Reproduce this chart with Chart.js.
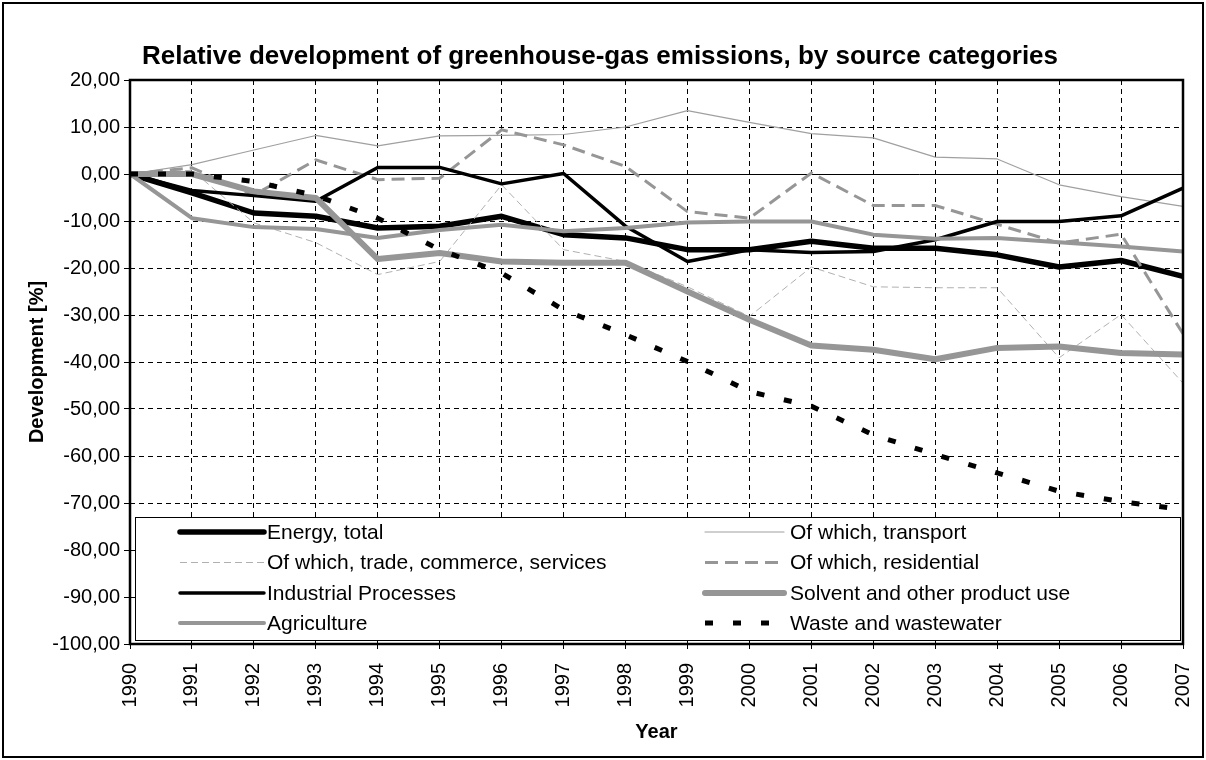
<!DOCTYPE html>
<html><head><meta charset="utf-8">
<script src="https://cdn.jsdelivr.net/npm/chart.js@4.4.1/dist/chart.umd.min.js"></script>
<style>html,body{margin:0;padding:0;background:#fff}#wrap{width:1206px;height:760px}</style>
</head><body><div id="wrap"><canvas id="c" width="1206" height="760"></canvas></div>
<script>
const years = ['1990','1991','1992','1993','1994','1995','1996','1997','1998','1999','2000','2001','2002','2003','2004','2005','2006','2007'];
const energyTotal = [0, -4.0, -8.3, -9.0, -11.5, -11.1, -9.0, -12.9, -13.6, -16.1, -16.1, -14.3, -15.8, -15.8, -17.2, -19.8, -18.4, -21.8];
const transport   = [0, 2.0, 5.1, 8.2, 6.0, 8.1, 8.2, 8.4, 10.0, 13.5, 11.0, 8.6, 7.7, 3.6, 3.2, -2.3, -4.8, -6.9];
const tradeCommerce = [0, 0.8, -10.4, -14.6, -21.4, -18.6, -2.3, -16.1, -18.6, -24.0, -30.3, -19.8, -24.0, -24.2, -24.2, -39.1, -29.9, -44.5];
const residential = [0, 1.3, -4.5, 3.0, -1.2, -0.9, 9.4, 6.2, 1.6, -8.0, -9.4, 0.2, -6.7, -6.7, -10.7, -14.7, -12.8, -34.0];
const industrial  = [0, -3.5, -4.6, -5.8, 1.4, 1.4, -2.1, 0.1, -11.1, -18.6, -16.1, -16.7, -16.5, -14.0, -10.1, -10.1, -8.9, -3.0];
const solvent     = [0, 0, -3.7, -5.1, -18.1, -16.8, -18.6, -18.9, -18.9, -25.0, -31.0, -36.5, -37.4, -39.4, -37.0, -36.7, -38.1, -38.4];
const agriculture = [0, -9.4, -11.3, -11.7, -13.6, -11.9, -10.8, -12.2, -11.5, -10.3, -10.1, -10.1, -12.9, -13.8, -13.6, -14.5, -15.4, -16.5];
const waste       = [0, 0, -1.6, -4.6, -9.4, -16.1, -21.1, -28.9, -34.2, -39.9, -46.3, -49.4, -55.5, -59.7, -63.6, -67.5, -69.7, -71.4];
const seriesNames = ['Energy, total','Of which, transport','Of which, trade, commerce, services','Of which, residential','Industrial Processes','Solvent and other product use','Agriculture','Waste and wastewater'];
const yTicks = [20,10,0,-10,-20,-30,-40,-50,-60,-70,-80,-90,-100];

const FONT = 'Liberation Sans, Arial, sans-serif';
Chart.defaults.font.family = FONT;
Chart.defaults.color = '#000';

const GRAY = '#969696';
const styles = [
  {c:'#000', w:5.5, d:[]},
  {c:'#a0a0a0', w:1.2, d:[]},
  {c:'#b0b0b0', w:1, d:[7,4]},
  {c:GRAY, w:3, d:[13,7]},
  {c:'#000', w:3.5, d:[]},
  {c:GRAY, w:6, d:[]},
  {c:GRAY, w:4, d:[]},
  {c:'#000', w:5, d:[8,20]}
];
const values = [energyTotal, transport, tradeCommerce, residential, industrial, solvent, agriculture, waste];
const datasets = values.map((v,i)=>({
  label: seriesNames[i], data: v,
  borderColor: styles[i].c, backgroundColor: styles[i].c,
  borderWidth: styles[i].w, borderDash: styles[i].d,
  borderCapStyle: 'butt', borderJoinStyle: styles[i].d.length ? 'miter' : 'round',
  pointRadius: 0, tension: 0, fill: false, order: values.length - i
}));

const deco = {
  id: 'deco',
  beforeDatasetsDraw(chart){
    const {ctx, chartArea:a, scales:{y}} = chart;
    const y0 = Math.round(y.getPixelForValue(0)) + 0.5;
    ctx.save(); ctx.strokeStyle = '#000'; ctx.lineWidth = 1; ctx.setLineDash([]);
    ctx.beginPath(); ctx.moveTo(a.left, y0); ctx.lineTo(a.right, y0); ctx.stroke();
    ctx.restore();
  },
  afterDatasetsDraw(chart){
    const {ctx, chartArea:a} = chart;
    ctx.save();
    const lx = 135.5, ly = 517.5, lw = 1045, lh = 123;
    ctx.fillStyle = '#fff'; ctx.fillRect(lx, ly, lw, lh);
    ctx.strokeStyle = '#000'; ctx.lineWidth = 1; ctx.setLineDash([]);
    ctx.strokeRect(lx, ly, lw, lh);
    const rowY = [532, 562.5, 593, 623];
    const cols = [{s:180, e:264, t:267}, {s:705, e:784, t:790}];
    ctx.font = '21px ' + FONT; ctx.textBaseline = 'middle'; ctx.fillStyle = '#000';
    chart.data.datasets.forEach((ds, i) => {
      const col = cols[i % 2], yy = rowY[Math.floor(i / 2)];
      ctx.save();
      ctx.strokeStyle = ds.borderColor; ctx.lineWidth = ds.borderWidth;
      ctx.setLineDash(ds.borderDash || []); ctx.lineCap = ds.borderDash.length ? 'butt' : 'round';
      ctx.beginPath(); ctx.moveTo(col.s, yy); ctx.lineTo(col.e, yy); ctx.stroke();
      ctx.restore();
      ctx.fillText(ds.label, col.t, yy + 1);
    });
    ctx.strokeStyle = '#000'; ctx.lineWidth = 2.5; ctx.setLineDash([]);
    ctx.strokeRect(a.left, a.top, a.right - a.left, a.bottom - a.top);
    ctx.restore();
  },
  afterDraw(chart){
    const {ctx} = chart;
    ctx.save();
    ctx.strokeStyle = '#000'; ctx.lineWidth = 2; ctx.setLineDash([]);
    ctx.strokeRect(3, 3, 1200, 754);
    ctx.font = 'bold 26px ' + FONT; ctx.textAlign = 'center'; ctx.textBaseline = 'middle'; ctx.fillStyle = '#000';
    ctx.fillText('Relative development of greenhouse-gas emissions, by source categories', 600, 57);
    ctx.restore();
  }
};

new Chart(document.getElementById('c'), {
  type: 'line',
  data: { labels: years, datasets },
  plugins: [deco],
  options: {
    responsive: false, animation: false,
    layout: { padding: { left: 0, right: 23, top: 80, bottom: 0 } },
    plugins: { legend: { display: false }, tooltip: { enabled: false }, title: { display: false } },
    scales: {
      x: {
        type: 'category', offset: false,
        grid: { color: '#000', lineWidth: 1, drawTicks: true, tickLength: 5, tickColor: '#000', tickBorderDash: [] },
        border: { display: false, dash: [5, 4] },
        ticks: { autoSkip: false, minRotation: 90, maxRotation: 90, padding: 14, font: { size: 20 }, color: '#000' },
        title: { display: true, text: 'Year', font: { size: 20, weight: 'bold' }, padding: { top: 0, bottom: 16 } },
        afterFit: s => { s.height = 116; s.paddingRight = 0; s.paddingLeft = 0; }
      },
      y: {
        min: -100, max: 20,
        afterBuildTicks: s => { s.ticks = yTicks.map(v => ({ value: v })); },
        grid: { color: '#000', lineWidth: 1, drawTicks: true, tickLength: 6, tickColor: '#000', tickBorderDash: [] },
        border: { display: false, dash: [5, 4] },
        ticks: { padding: 4, font: { size: 20 }, color: '#000', callback: v => v.toFixed(2).replace('.', ',') },
        title: { display: true, text: 'Development [%]', font: { size: 20, weight: 'bold' }, padding: { top: 25, bottom: 0 } },
        afterFit: s => { s.width = 130; s.paddingTop = 0; s.paddingBottom = 0; }
      }
    }
  }
});
</script></body></html>
